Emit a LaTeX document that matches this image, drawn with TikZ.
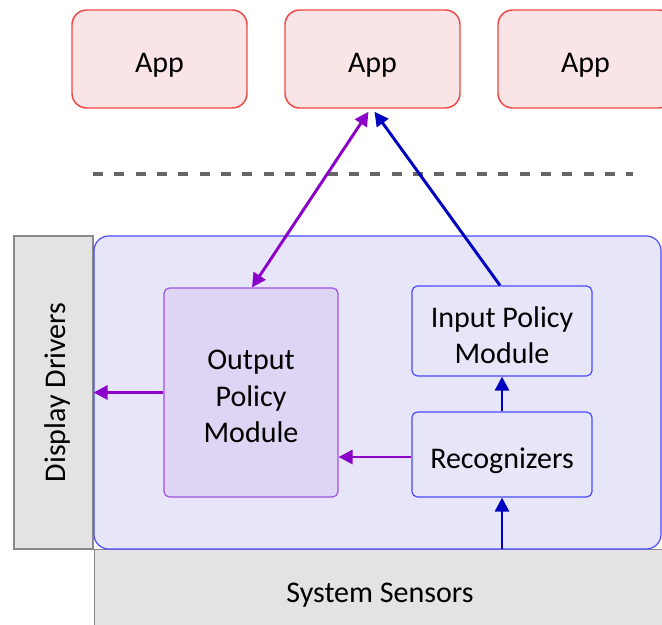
\documentclass[tikz,border=0pt]{standalone}
\usepackage{fontspec}
\setmainfont{Carlito}
\usetikzlibrary{arrows.meta,calc}
\definecolor{appfill}{HTML}{F9E4E6}
\definecolor{appdraw}{HTML}{F04848}
\definecolor{contfill}{HTML}{E7E6F8}
\definecolor{contdraw}{HTML}{4A4AFF}
\definecolor{outfill}{HTML}{DDD5F3}
\definecolor{outdraw}{HTML}{A050E0}
\definecolor{grayfill}{HTML}{E3E3E3}
\definecolor{graydraw}{HTML}{8A8A8A}
\definecolor{purplearrow}{HTML}{8A00C8}
\definecolor{bluearrow}{HTML}{0000C0}
\definecolor{dashgray}{HTML}{666666}
\begin{document}
\begin{tikzpicture}[x=0.75pt,y=-0.75pt,
  every node/.style={font=\fontsize{22.5}{27.4}\selectfont, align=center, inner sep=0pt, text depth=0pt},
  appbox/.style={draw=appdraw, fill=appfill, line width=1.1pt, rounded corners=11pt,
    minimum width=131.25pt, minimum height=73.5pt},
  graybox/.style={draw=graydraw, fill=grayfill, line width=0.9pt},
  contbox/.style={draw=contdraw, fill=contfill, line width=0.9pt, rounded corners=11pt},
  outbox/.style={draw=outdraw, fill=outfill, line width=0.9pt, rounded corners=4pt},
  inbox/.style={draw=contdraw, fill=contfill, line width=0.9pt, rounded corners=4pt},
  parrow/.style={draw=purplearrow, line width=2.2pt, -{Triangle[length=10.5pt,width=10.5pt]}},
  barrow/.style={draw=bluearrow, line width=2.2pt, -{Triangle[length=10.5pt,width=10.5pt]}},
  dashline/.style={draw=dashgray, line width=2.4pt, dash pattern=on 7.5pt off 8.5pt}
]
\useasboundingbox (0,0) rectangle (662,625);
\clip (0,0) rectangle (662,625);
% apps
\node[appbox] (app1) at (159.5,59) {};
\node[appbox] (app2) at (372.5,59) {};
\node[appbox] (app3) at (585.5,59) {};
\node (app1l) at ($(app1.center)+(0,4)$) {App};
\node (app2l) at ($(app2.center)+(0,4)$) {App};
\node (app3l) at ($(app3.center)+(0,4)$) {App};
% dashed separator
\coordinate (dl) at (93,174);
\coordinate (dr) at (633,174);
\draw[dashline] (dl) -- (dr);
% sensors
\node[graybox, minimum width=432pt, minimum height=60pt, anchor=north west] (sensors) at (94,549) {};
\node (sensorslabel) at (380,593) {System Sensors};
% display drivers
\node[graybox, minimum width=59.25pt, minimum height=234.75pt] (drivers) at (53.5,392.5) {};
\node[rotate=90] (driverslabel) at ($(drivers.center)+(2,0)$) {Display Drivers};
% container
\node[contbox, minimum width=425.25pt, minimum height=234.75pt] (cont) at (377.5,392.5) {};
% modules
\node[outbox, minimum width=130.5pt, minimum height=156.75pt] (output) at (251,392.5) {};
\node[inbox, minimum width=135pt, minimum height=67.5pt] (input) at (502,331) {};
\node[inbox, minimum width=135pt, minimum height=63.75pt] (recog) at (502,454.5) {};
\node (outputl) at ($(output.center)+(0,4)$) {Output\\Policy\\Module};
\node (inputl) at ($(input.center)+(0,4)$) {Input Policy\\Module};
\node (recogl) at ($(recog.center)+(0,4)$) {Recognizers};
% connectors
\coordinate (appP) at ($(app2.south)+(-4,3)$);
\coordinate (appB) at ($(app2.south)+(2,3)$);
\draw[parrow, {Triangle[length=10.5pt,width=10.5pt]}-{Triangle[length=10.5pt,width=10.5pt]}] ($(output.north)+(1,0)$) -- (appP);
\draw[barrow] ($(input.north)+(-2,0)$) -- (appB);
\draw[barrow] (recog.north) -- (input.south);
\draw[barrow] (recog.south |- sensors.north) -- (recog.south);
\draw[parrow] (recog.west |- 0,457) -- (output.east |- 0,457);
\draw[parrow] (output.west) -- (output.west -| drivers.east);
\end{tikzpicture}
\end{document}
